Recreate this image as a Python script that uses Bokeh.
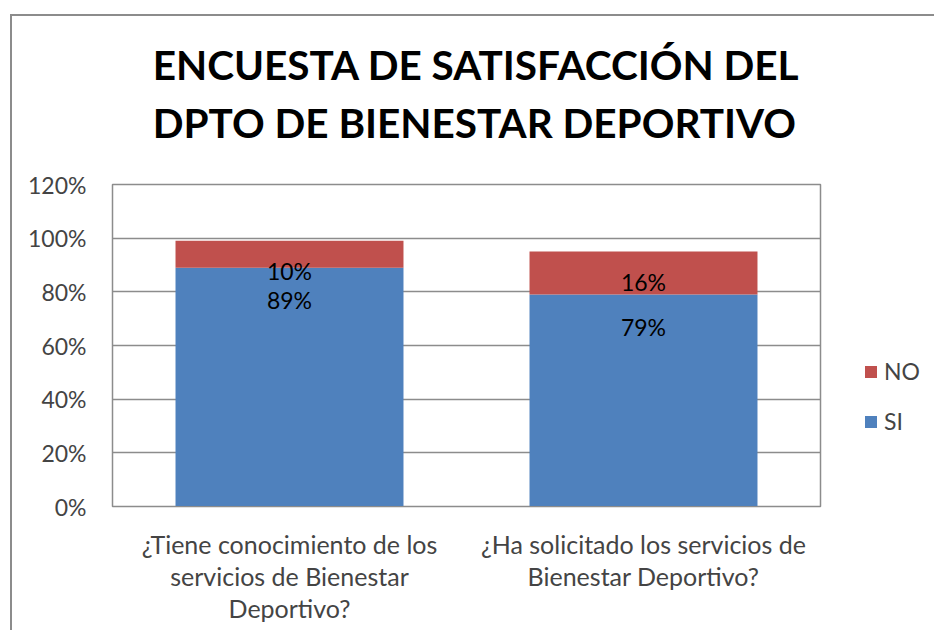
from bokeh.plotting import figure
from bokeh.layouts import row
from bokeh.models import (FactorRange, Range1d, NumeralTickFormatter, Legend, LegendItem,
                          ColumnDataSource, Title, FixedTicker)
from bokeh.core.properties import value
from bokeh.embed import file_html
from bokeh.resources import INLINE

categories = ["¿Tiene conocimiento de los\nservicios de Bienestar\nDeportivo?",
              "¿Ha solicitado los servicios de\nBienestar Deportivo?"]
si_values = [0.89, 0.79]
no_values = [0.10, 0.16]
si_labels = ["89%", "79%"]
no_labels = ["10%", "16%"]
y_ticks = [0, 0.2, 0.4, 0.6, 0.8, 1.0, 1.2]
title_lines = ["ENCUESTA DE SATISFACCIÓN DEL", "DPTO DE BIENESTAR DEPORTIVO"]
legend_names = ["NO", "SI"]

BLUE = "#4F81BD"
RED = "#C0504D"
GRID = "#8C8C8C"
FONT = "Lato"

src = ColumnDataSource(dict(
    cat=categories, SI=si_values, NO=no_values,
    si_top=si_values,
    no_top=[a + b for a, b in zip(si_values, no_values)],
    si_lab=si_labels, no_lab=no_labels,
))

p = figure(width=850, height=630, x_range=FactorRange(*categories, range_padding=0),
           y_range=Range1d(0, 1.2), output_backend="svg", toolbar_location=None,
           min_border_left=112, min_border_right=30, min_border_bottom=124,
           min_border_top=184)
p.border_fill_color = None
p.background_fill_color = "white"

pad = "\u00a0\u00a0"
p.title = Title(text="\n".join(pad + t for t in title_lines), align="center",
                text_font=FONT, text_font_size="40.5px", text_font_style="bold",
                standoff=74, text_color="black", text_line_height=1.2)

r = p.vbar_stack(["SI", "NO"], x="cat", width=0.644, source=src,
                 color=[BLUE, RED], line_color=None)

p.text(x="cat", y="no_top", text="no_lab", source=src, y_offset=30,
       text_align="center", text_baseline="middle", text_font=value(FONT),
       text_font_size="23px", text_color="black")
p.text(x="cat", y="si_top", text="si_lab", source=src, y_offset=32,
       text_align="center", text_baseline="middle", text_font=value(FONT),
       text_font_size="23px", text_color="black")

p.yaxis.ticker = FixedTicker(ticks=y_ticks)
p.yaxis.formatter = NumeralTickFormatter(format="0%")
p.yaxis.major_label_text_font = FONT
p.yaxis.major_label_text_font_size = "23px"
p.yaxis.major_label_standoff = 20
p.yaxis.major_tick_line_color = None
p.yaxis.minor_tick_line_color = None
p.yaxis.axis_line_color = GRID
p.xaxis.major_label_text_font = FONT
p.xaxis.major_label_text_font_size = "25px"
p.xaxis.major_label_text_line_height = 1.08
p.xaxis.major_label_standoff = 16
p.xaxis.major_tick_line_color = None
p.xaxis.axis_line_color = GRID
p.xgrid.grid_line_color = None
p.ygrid.grid_line_color = GRID
p.ygrid.grid_line_width = 1.5
p.outline_line_color = GRID
p.outline_line_width = 1.5

# separate narrow figure holding the legend (to the right of the plot area)
lf = figure(width=84, height=630, x_range=Range1d(0, 1), y_range=Range1d(0, 1),
            output_backend="svg", toolbar_location=None, x_axis_type=None,
            y_axis_type=None, min_border=0)
lf.border_fill_color = None
lf.background_fill_color = None
lf.grid.visible = False
lf.outline_line_color = None
r_no = lf.vbar(x=[5], top=[5], width=0.5, color=RED, line_color=None)
r_si = lf.vbar(x=[5], top=[5], width=0.5, color=BLUE, line_color=None)
legend = Legend(items=[LegendItem(label=legend_names[0], renderers=[r_no]),
                       LegendItem(label=legend_names[1], renderers=[r_si])],
                location=(13, 71), label_text_font=FONT, label_text_font_size="23px",
                glyph_width=15, glyph_height=15, spacing=22, background_fill_alpha=0,
                border_line_alpha=0, label_standoff=6, padding=0, margin=0)
lf.add_layout(legend, "center")

chart_border = {
    "background-color": "white",
    "background-image": f"linear-gradient({GRID}, {GRID}), linear-gradient({GRID}, {GRID})",
    "background-size": "100% 2px, 2px 100%",
    "background-position": "10px 14px, 10px 14px",
    "background-repeat": "no-repeat",
}
layout = row(p, lf, styles=chart_border)
open("out.html", "w").write(file_html(layout, INLINE))
